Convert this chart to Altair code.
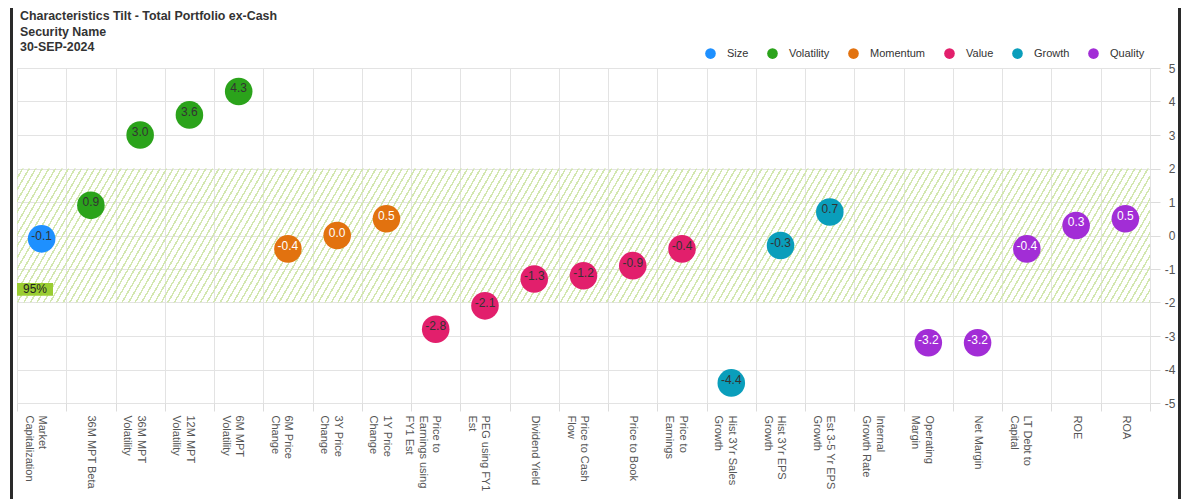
import altair as alt
import pandas as pd

# ---------------- data ----------------
categories = [
    "Market|Capitalization", "36M MPT Beta", "36M  MPT|Volatility", "12M MPT|Volatility",
    "6M  MPT|Volatility", "6M  Price|Change", "3Y Price|Change", "1Y Price|Change",
    "Price  to|Earnings  using|FY1 Est", "PEG using  FY1|Est", "Dividend Yield",
    "Price  to  Cash|Flow", "Price to Book", "Price  to|Earnings", "Hist  3Yr Sales|Growth",
    "Hist  3Yr EPS|Growth", "Est  3-5  Yr EPS|Growth", "Internal|Growth  Rate",
    "Operating|Margin", "Net Margin", "LT Debt  to|Capital", "ROE", "ROA",
]
values = [-0.1, 0.9, 3.0, 3.6, 4.3, -0.4, 0.0, 0.5, -2.8, -2.1, -1.3, -1.2, -0.9, -0.4,
          -4.4, -0.3, 0.7, None, -3.2, -3.2, -0.4, 0.3, 0.5]
groups = ["Size", "Volatility", "Volatility", "Volatility", "Volatility",
          "Momentum", "Momentum", "Momentum",
          "Value", "Value", "Value", "Value", "Value", "Value",
          "Growth", "Growth", "Growth", "Growth",
          "Quality", "Quality", "Quality", "Quality", "Quality"]
group_names = ["Size", "Volatility", "Momentum", "Value", "Growth", "Quality"]
group_colors = ["#1E90FF", "#2BA31B", "#E2720F", "#E21F6C", "#0A9EBB", "#A22DD6"]
light_text_groups = ["Momentum", "Quality"]
band_lo = [-2]
band_hi = [2]
band_label = ["95%"]
y_ticks = [-5, -4, -3, -2, -1, 0, 1, 2, 3, 4, 5]

FONT = "Liberation Sans, Arial, sans-serif"
W, H = 1133, 335
MINUS = "\u2212"

df = pd.DataFrame({"cat": categories, "value": values, "group": groups})
band_df = pd.DataFrame({"lo": band_lo, "hi": band_hi, "label": band_label})

# diagonal hatch via gradient stops
N = 185
stops = []
for k in range(N):
    a = k / N
    b = (k + 0.74) / N
    c = (k + 1) / N
    stops += [
        alt.GradientStop(offset=a, color="rgba(255,255,255,0)"),
        alt.GradientStop(offset=b, color="rgba(255,255,255,0)"),
        alt.GradientStop(offset=b, color="#d3e7b0"),
        alt.GradientStop(offset=c, color="#d3e7b0"),
    ]
hatch = alt.Gradient(gradient="linear", stops=stops, x1=0, y1=0, x2=1.0633, y2=0.0726)

xscale = alt.Scale(domain=categories, paddingInner=0, paddingOuter=0)
yscale = alt.Scale(domain=[-5, 5], nice=False)

yaxis = alt.Axis(orient="right", values=y_ticks, labelAlign="right",
                 labelBaseline="middle", labelOverlap=False, labelFlush=False,
                 tickSize=10, labelPadding=15, tickColor="#dcdcdc",
                 gridColor="#e3e3e3", domain=False, labelColor="#555",
                 labelFontSize=12, labelFont=FONT, title=None,
                 labelExpr="datum.value + ''")
xaxis = alt.Axis(labelAngle=90, labelAlign="left", labelBaseline="middle",
                 labelFontSize=11, labelColor="#555", labelFont=FONT,
                 labelLineHeight=13.5, tickBand="extent", tickSize=8,
                 tickColor="#dcdcdc", gridColor="#e3e3e3", grid=True,
                 domain=False, labelPadding=4, labelLimit=0, title=None,
                 labelExpr="split(datum.label, '|')")

band = alt.Chart(band_df).mark_rect(fill=hatch).encode(
    y=alt.Y("lo:Q", scale=yscale, axis=yaxis), y2="hi:Q",
    x=alt.value(0), x2=alt.value("width"),
)

badge_df = pd.DataFrame({"top": [-1.42], "bot": [-1.8], "mid": [-1.61], "label": band_label})
badge = alt.Chart(badge_df).mark_rect(fill="#9ACD32").encode(
    y=alt.Y("top:Q", scale=yscale, axis=yaxis), y2="bot:Q", x=alt.value(0), x2=alt.value(36)
)
badge_text = alt.Chart(badge_df).mark_text(font=FONT, fontSize=12, color="#222").encode(
    y=alt.Y("mid:Q", scale=yscale, axis=yaxis), x=alt.value(18), text="label:N"
)

base = alt.Chart(df).transform_filter("isValid(datum.value)").transform_calculate(
    txt=f"replace(format(datum.value, '.1f'), '{MINUS}', '-')"
)

points = base.mark_circle(size=760, opacity=1).encode(
    x=alt.X("cat:N", scale=xscale, sort=categories, axis=xaxis),
    y=alt.Y("value:Q", scale=yscale, axis=yaxis),
    color=alt.Color("group:N", scale=alt.Scale(domain=group_names, range=group_colors),
                    legend=alt.Legend(orient="none", legendX=688, legendY=-20,
                                      direction="horizontal", title=None,
                                      symbolType="circle", symbolSize=113,
                                      symbolStrokeWidth=0, labelFontSize=11,
                                      labelColor="#333", labelFont=FONT,
                                      columnPadding=18, labelOffset=11, padding=0)),
)

labels = base.mark_text(font=FONT, fontSize=12, dy=-3).encode(
    x=alt.X("cat:N", scale=xscale, sort=categories, axis=xaxis),
    y=alt.Y("value:Q", scale=yscale, axis=yaxis),
    text=alt.Text("txt:N"),
    color=alt.condition(alt.FieldOneOfPredicate(field="group", oneOf=light_text_groups),
                        alt.value("white"), alt.value("#333")),
)

frame_df = pd.DataFrame({"a": [0]})
frame_left = alt.Chart(frame_df).mark_rule(color="#2a2a2a", strokeWidth=3).encode(
    x=alt.value(-5.5), y=alt.value(-70), y2=alt.value(H + 120)
)
frame_right = alt.Chart(frame_df).mark_rule(color="#2a2a2a", strokeWidth=3).encode(
    x=alt.value(1162.5), y=alt.value(-70), y2=alt.value(H + 120)
)

chart = alt.layer(band, badge, badge_text, points, labels, frame_left, frame_right).properties(
    width=W, height=H,
    autosize=alt.AutoSizeParams(type="none"),
    padding={"left": 9, "top": 60, "right": 31, "bottom": 96},
    title=alt.TitleParams(
        text=["Characteristics Tilt - Total Portfolio ex-Cash", "Security Name", "30-SEP-2024"],
        anchor="start", frame="group", fontSize=12.4, fontWeight="bold", color="#333",
        font=FONT, lineHeight=15.5, offset=0, dx=3, dy=57,
    ),
).resolve_scale(color="independent").configure_view(stroke=None).configure(background="white")

chart.save("out.html", embed_options={"renderer": "svg", "actions": False})
